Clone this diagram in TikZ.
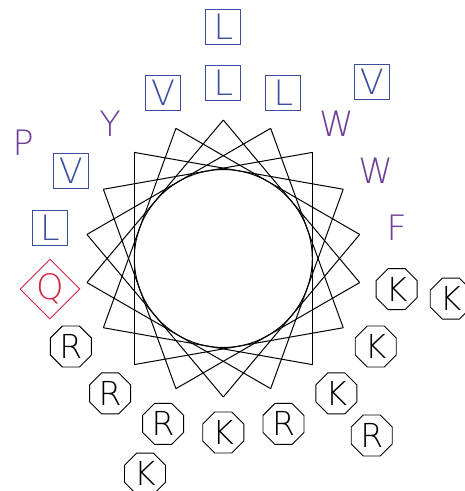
\documentclass[tikz,border=0pt]{standalone}
\usepackage{fontspec}
\IfFontExistsTF{DejaVu Sans ExtraLight}{\setmainfont{DejaVu Sans ExtraLight}}{\setmainfont{Liberation Sans}}
\usetikzlibrary{shapes.geometric,calc}
\definecolor{hydblue}{RGB}{59,79,159}
\definecolor{aropurple}{RGB}{111,61,152}
\definecolor{polred}{RGB}{210,35,63}
\tikzset{
  res/.style={font=\fontsize{35}{38}\selectfont, inner sep=0pt},
  hyd/.style={res, draw=hydblue, text=hydblue, line width=1pt, rectangle, minimum size=35pt},
  aro/.style={res, text=aropurple},
  pol/.style={res, draw=polred, text=polred, line width=0.9pt, diamond, minimum size=60pt},
  chg/.style={res, draw=black, line width=0.9pt, regular polygon, regular polygon sides=8, minimum size=44.4pt, font=\fontsize{33}{36}\selectfont},
  wheel/.style={draw=black, line width=1pt}
}
\begin{document}
\begin{tikzpicture}[x=1pt,y=-1pt]
\useasboundingbox (0,0) rectangle (465,491);
\coordinate (c) at (223.3,258.5);
% star vertices
\foreach \k in {0,...,17}{
  \coordinate (v\k) at ($(c)+({90+20*\k}:138.5pt)$);
}
\foreach \k in {0,...,17}{
  \pgfmathtruncatemacro{\j}{mod(\k+5,18)}
  \draw[wheel] (v\k) -- (v\j);
}
\draw[wheel] (c) circle[radius=89pt];
% inner ring
\node[hyd] (r1) at ($(c)+(90:176pt)$) {L};
\node[hyd] (r2) at ($(c)+(70:176pt)$) {L};
\node[hyd] (r3) at ($(c)+(110:176pt)$) {V};
\node[aro] (r4) at ($(c)+(50:176pt)$) {W};
\node[aro] (r5) at ($(c)+(30:176pt)$) {W};
\node[aro] (r6) at ($(c)+(10:176pt)$) {F};
\node[chg] (r7) at ($(c)+(-10:176pt)$) {K};
\node[chg] (r8) at ($(c)+(-30:176pt)$) {K};
\node[chg] (r9) at ($(c)+(-50:176pt)$) {K};
\node[chg] (r10) at ($(c)+(-70:176pt)$) {R};
\node[chg] (r11) at ($(c)+(-90:174pt)$) {K};
\node[chg] (r12) at ($(c)+(-110:176pt)$) {R};
\node[chg] (r13) at ($(c)+(-130:176pt)$) {R};
\node[chg] (r14) at ($(c)+(-150:176pt)$) {R};
\node[pol] (r15) at ($(c)+(190:176pt)$) {Q};
\node[hyd] (r16) at ($(c)+(170:176pt)$) {L};
\node[hyd] (r17) at ($(c)+(150:176pt)$) {V};
\node[aro] (r18) at ($(c)+(130:176pt)$) {Y};
% outer ring
\node[hyd] (s1) at ($(c)+(90:231.5pt)$) {L};
\node[hyd] (s2) at ($(c)+(50:231pt)$) {V};
\node[chg] (s3) at ($(c)+(-10:231pt)$) {K};
\node[chg] (s4) at ($(c)+(-50:231pt)$) {R};
\node[chg] (s5) at ($(c)+(-110:229pt)$) {K};
\node[aro] (s6) at ($(c)+(150:231pt)$) {P};
\end{tikzpicture}
\end{document}
